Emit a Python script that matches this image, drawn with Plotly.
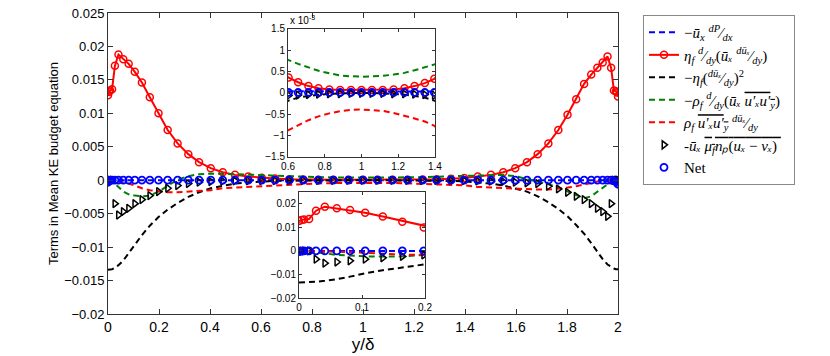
import plotly.graph_objects as go

# wall-normal positions y/delta (same grid for every term)
y_pos = [0, 0.004, 0.008, 0.016, 0.027, 0.041, 0.06, 0.081, 0.105, 0.133, 0.164, 0.198,
         0.234, 0.273, 0.315, 0.357, 0.403, 0.45, 0.498, 0.55, 0.603, 0.655, 0.711, 0.766,
         0.825, 0.884, 0.943, 1.0,
         1.057, 1.116, 1.175, 1.234, 1.289, 1.345, 1.397, 1.45, 1.502, 1.55, 1.597, 1.643,
         1.685, 1.727, 1.766, 1.802, 1.836, 1.867, 1.895, 1.919, 1.94, 1.959, 1.973, 1.984,
         1.992, 1.996, 2.0]

pressure = [0, 0, 0.00001, 0.00001, 0.00002, 0.00002, 0.00003, 0.00003, 0.00003, 0.00004,
            0.00004, 0.00004, 0.00004, 0.00004, 0.00004, 0.00004, 0.00004, 0.00004, 0.00004,
            0.00004, 0.00004, 0.00004, 0.00004, 0.00004, 0.00004, 0.00004, 0.00004, 0.00004,
            0.00004, 0.00004, 0.00004, 0.00004, 0.00004, 0.00004, 0.00004, 0.00004, 0.00004,
            0.00004, 0.00004, 0.00004, 0.00004, 0.00004, 0.00004, 0.00004, 0.00004, 0.00004,
            0.00004, 0.00003, 0.00003, 0.00003, 0.00002, 0.00002, 0.00001, 0, 0]

viscous_diff = [0.0127, 0.0132, 0.0134, 0.0136, 0.0171, 0.0188, 0.0181, 0.0174, 0.0162, 0.0146,
                0.0124, 0.0100, 0.0075, 0.0055, 0.0039, 0.0027, 0.0018, 0.0012, 0.0008, 0.00056,
                0.00036, 0.00025, 0.00016, 0.00011, 0.00008, 0.00007, 0.00007, 0.00007,
                0.00007, 0.00007, 0.00008, 0.00011, 0.00016, 0.00023, 0.00033, 0.00055, 0.0008,
                0.0012, 0.0018, 0.0027, 0.0039, 0.0055, 0.0075, 0.0098, 0.0121, 0.0144, 0.0158,
                0.0168, 0.0176, 0.0185, 0.0168, 0.0134, 0.0133, 0.0131, 0.0125]

dissipation = [-0.0134, -0.0134, -0.0134, -0.0133, -0.0131, -0.0127, -0.0120, -0.0109, -0.0095,
               -0.0082, -0.0068, -0.0055, -0.0044, -0.0034, -0.0025, -0.0018, -0.0012, -0.0008,
               -0.0005, -0.0003, -0.00018, -0.00011, -0.00007, -0.00004, -0.00002, -0.00001, 0, 0,
               0, -0.00001, -0.00002, -0.00004, -0.00007, -0.00011, -0.00018, -0.0003, -0.0005,
               -0.0008, -0.0012, -0.0017, -0.0024, -0.0033, -0.0043, -0.0054, -0.0067, -0.0080,
               -0.0094, -0.0107, -0.0118, -0.0126, -0.0130, -0.0132, -0.0133, -0.0133, -0.0133]

turb_transport = [0, -0.0001, -0.0002, -0.0003, -0.0005, -0.001, -0.0017, -0.0021, -0.0023,
                  -0.0024, -0.0023, -0.0017, -0.0008, 0.0001, 0.0006, 0.0009, 0.001, 0.00097,
                  0.0009, 0.00084, 0.00077, 0.00068, 0.0006, 0.00052, 0.00046, 0.00041, 0.00039,
                  0.00038, 0.00039, 0.0004, 0.00043, 0.00047, 0.00053, 0.0006, 0.00068, 0.00076,
                  0.0008, 0.0008, 0.0006, 0.0002, -0.0002, -0.0006, -0.0011, -0.0017, -0.0023,
                  -0.0027, -0.0024, -0.0017, -0.0011, -0.0006, -0.0003, -0.0002, -0.0001, 0, 0]

production = [0, 0, 0, -0.0001, -0.0001, -0.0002, -0.0003, -0.0005, -0.0008, -0.0012, -0.0015,
              -0.0017, -0.0018, -0.0018, -0.0017, -0.0016, -0.0015, -0.0012, -0.0011, -0.001,
              -0.00087, -0.00075, -0.00064, -0.00055, -0.00048, -0.00043, -0.0004, -0.00039,
              -0.0004, -0.00042, -0.00047, -0.00053, -0.0006, -0.00067, -0.00077, -0.001,
              -0.0011, -0.0012, -0.0013, -0.0014, -0.0014, -0.0014, -0.0013, -0.0011, -0.0009,
              -0.0006, -0.0004, -0.0002, -0.0001, 0, 0, 0, 0, 0, 0]

particle_drag = [0, 0, 0, 0, -0.0035, -0.0052, -0.0047, -0.0042, -0.0035, -0.0029, -0.0023,
                 -0.0017, -0.0012, -0.0008, -0.0005, -0.0003, -0.0002, -0.00015, -0.0001,
                 -0.00008, -0.00006, -0.00005, -0.00004, -0.00003, -0.00002, -0.00002, -0.00001,
                 -0.00001, -0.00001, -0.00001, -0.00002, -0.00002, -0.00003, -0.00004, -0.00006,
                 -0.0001, -0.00015, -0.0002, -0.0003, -0.0004, -0.0005, -0.0009, -0.0013,
                 -0.0018, -0.0024, -0.0029, -0.0035, -0.0042, -0.0047, -0.0054, -0.0035, 0, 0, 0, 0]

net = [-0.0003, -0.0001, 0, 0, 0, 0.00001, 0.00001, 0.00001, 0.00001, 0.00001, 0.00001, 0.00001,
       0.00001, 0.00001, 0.00001, 0.00001, 0.00001, 0.00001, 0.00001, 0.00001, 0.00001, 0.00001,
       0.00001, 0.00001, 0.00001, 0.00001, 0.00001, 0.00001, 0.00001, 0.00001, 0.00001, 0.00001,
       0.00001, 0.00001, 0.00001, 0.00001, 0.00001, 0.00001, 0.00001, 0.00001, 0.00001, 0.00001,
       0.00001, 0.00001, 0.00001, 0.00001, 0.00001, 0.00001, 0.00001, 0.00001, 0, -0.0001,
       -0.0002, -0.0003, -0.0006]

OL = "<span style='text-decoration:overline'>"
labels = [
    "−<i>ū<sub>x</sub></i> <sup><i>dP</i></sup>⁄<sub><i>dx</i></sub>",
    "<i>η<sub>f</sub></i> <sup><i>d</i></sup>⁄<sub><i>dy</i></sub>(<i>ūₓ</i> <sup><i>dūₓ</i></sup>⁄<sub><i>dy</i></sub>)",
    "−<i>η<sub>f</sub></i>(<sup><i>dūₓ</i></sup>⁄<sub><i>dy</i></sub>)<sup>2</sup>",
    "−<i>ρ<sub>f</sub></i> <sup><i>d</i></sup>⁄<sub><i>dy</i></sub>(<i>ūₓ</i> " + OL + "<i>u′ₓu′</i><sub><i>y</i></sub></span>)",
    "<i>ρ<sub>f</sub></i> " + OL + "<i>u′ₓu′</i><sub><i>y</i></sub></span> <sup><i>dūₓ</i></sup>⁄<sub><i>dy</i></sub>",
    "-<i>ūₓ</i> " + OL + "<i>μ<sub>f</sub>nₚ</i>(<i>uₓ</i> − <i>vₓ</i>)\u00a0</span>\u00a0\u00a0",
    "Net",
]

dash = "6px,4px"
styles = [
    dict(y=pressure, mode="lines", line=dict(color="blue", width=2, dash=dash)),
    dict(y=viscous_diff, mode="lines+markers", line=dict(color="red", width=2),
         marker=dict(symbol="circle-open", size=7, color="red", line=dict(width=1.5))),
    dict(y=dissipation, mode="lines", line=dict(color="black", width=2, dash=dash)),
    dict(y=turb_transport, mode="lines", line=dict(color="green", width=2, dash=dash)),
    dict(y=production, mode="lines", line=dict(color="red", width=2, dash=dash)),
    dict(y=particle_drag, mode="markers",
         marker=dict(symbol="triangle-right-open", size=7, color="black", line=dict(width=1.5))),
    dict(y=net, mode="markers",
         marker=dict(symbol="circle-open", size=7, color="blue", line=dict(width=1.8))),
]

fig = go.Figure()
for ax, show in [("", True), ("2", False), ("3", False)]:
    for i, (lab, st) in enumerate(zip(labels, styles)):
        fig.add_trace(go.Scatter(x=y_pos, name=lab, showlegend=show, legendgroup=f"g{i}",
                                 xaxis="x" + ax, yaxis="y" + ax, **st))

axis_common = dict(showline=True, mirror="allticks", ticks="inside", linecolor="#333",
                   showgrid=False, zeroline=False, tickcolor="#333", automargin=False)

fig.update_layout(
    width=830, height=356,
    margin=dict(l=108, r=212, t=13, b=42, autoexpand=False),
    paper_bgcolor="white", plot_bgcolor="white",
    font=dict(family="Liberation Sans, Arial, sans-serif", color="black", size=13),
    xaxis=dict(range=[0, 2], dtick=0.2, ticklen=5, tickfont=dict(size=14),
               title=dict(text="y/δ", font=dict(size=17), standoff=2), **axis_common),
    yaxis=dict(range=[-0.02, 0.025], dtick=0.005, ticklen=5, tickfont=dict(size=13),
               title=dict(text="Terms in Mean KE budget equation", font=dict(size=13), standoff=2),
               **axis_common),
    xaxis2=dict(domain=[0.353, 0.641], anchor="y2", range=[0.6, 1.4], dtick=0.2, ticklen=3,
                tickfont=dict(size=10), **axis_common),
    yaxis2=dict(domain=[0.522, 0.947], anchor="x2", range=[-0.0015, 0.0015],
                tickvals=[-0.0015, -0.001, -0.0005, 0, 0.0005, 0.001, 0.0015],
                ticktext=["−1.5", "−1", "−0.5", "0", "0.5", "1", "1.5"], ticklen=3,
                tickfont=dict(size=10), **axis_common),
    xaxis3=dict(domain=[0.3745, 0.6216], anchor="y3", range=[0, 0.2], dtick=0.1, ticklen=3,
                tickfont=dict(size=10), **axis_common),
    yaxis3=dict(domain=[0.053, 0.405], anchor="x3", range=[-0.02, 0.025],
                tickvals=[-0.02, -0.01, 0, 0.01, 0.02], ticklen=3,
                tickfont=dict(size=10), **axis_common),
    legend=dict(x=1.049, y=0.993, xanchor="left", yanchor="top", bgcolor="white",
                bordercolor="#888", borderwidth=1, tracegroupgap=0,
                font=dict(family="Liberation Serif, serif", size=15)),
    shapes=[
        dict(type="rect", xref="x2", yref="y2", x0=0.6, x1=1.4, y0=-0.0015, y1=0.0015,
             fillcolor="white", line=dict(width=0), layer="below"),
        dict(type="rect", xref="x3", yref="y3", x0=0, x1=0.2, y0=-0.02, y1=0.025,
             fillcolor="white", line=dict(width=0), layer="below"),
    ],
    annotations=[
        dict(text="x 10<sup>-3</sup>", xref="paper", yref="paper", x=0.353, y=0.95,
             xanchor="left", yanchor="bottom", showarrow=False, font=dict(size=10)),
    ],
)

fig.write_html("out.html", config={"displayModeBar": False},
               post_script="document.body.style.margin='0';")
